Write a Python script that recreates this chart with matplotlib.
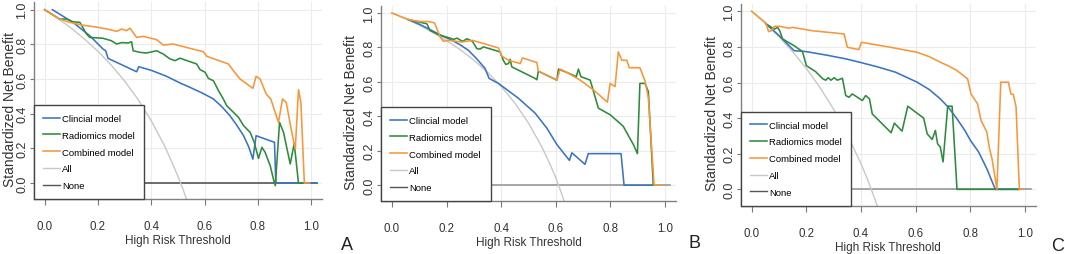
import matplotlib
matplotlib.use("Agg")
import matplotlib.pyplot as plt

plt.rcParams["font.family"] = ["Liberation Sans", "DejaVu Sans"]

# Step 1: values
# Panel A
clin_A_x = [0.029, 0.106, 0.169, 0.219, 0.229, 0.238, 0.345, 0.353, 0.40, 0.457, 0.508, 0.545, 0.59, 0.633,
            0.665, 0.695, 0.72, 0.746, 0.765, 0.781, 0.793, 0.862, 0.867, 1.02]
clin_A_y = [1.0, 0.927, 0.85, 0.773, 0.763, 0.719, 0.642, 0.671, 0.65, 0.616, 0.577, 0.552, 0.52, 0.485,
            0.44, 0.388, 0.335, 0.273, 0.21, 0.138, 0.273, 0.235, 0.0, 0.0]
rad_A_x = [0.0, 0.056, 0.082, 0.107, 0.132, 0.157, 0.169, 0.219, 0.25, 0.27, 0.289, 0.313, 0.326, 0.332,
           0.357, 0.382, 0.42, 0.445, 0.47, 0.489, 0.508, 0.545, 0.57, 0.583, 0.602, 0.614, 0.633, 0.652,
           0.67, 0.683, 0.708, 0.727, 0.746, 0.771, 0.786, 0.802, 0.815, 0.827, 0.846, 0.858, 0.865, 0.881,
           0.896, 0.921, 0.936, 0.952, 0.974]
rad_A_y = [1.0, 0.946, 0.946, 0.93, 0.927, 0.86, 0.84, 0.835, 0.821, 0.802, 0.81, 0.808, 0.815, 0.763,
           0.754, 0.75, 0.763, 0.744, 0.716, 0.706, 0.72, 0.70, 0.687, 0.654, 0.639, 0.604, 0.59, 0.533,
           0.485, 0.446, 0.408, 0.379, 0.331, 0.292, 0.235, 0.142, 0.206, 0.177, 0.1, 0.023, -0.015, 0.35,
           0.292, 0.11, 0.229, 0.0, 0.0]
comb_A_x = [0.0, 0.056, 0.094, 0.138, 0.2, 0.244, 0.27, 0.289, 0.307, 0.32, 0.345, 0.37, 0.42, 0.445,
            0.482, 0.545, 0.595, 0.608, 0.689, 0.708, 0.733, 0.781, 0.793, 0.808, 0.831, 0.848, 0.877,
            0.892, 0.906, 0.927, 0.94, 0.952, 0.961, 0.974, 0.994]
comb_A_y = [1.0, 0.946, 0.927, 0.912, 0.898, 0.885, 0.875, 0.888, 0.879, 0.893, 0.84, 0.846, 0.827, 0.796,
            0.802, 0.777, 0.758, 0.731, 0.687, 0.648, 0.6, 0.546, 0.616, 0.6, 0.513, 0.485, 0.35,
            0.485, 0.465, 0.292, 0.196, 0.538, 0.465, 0.0, 0.0]
all_A_x = [0.0, 0.05, 0.1, 0.15, 0.2, 0.25, 0.3, 0.35, 0.4, 0.45, 0.48, 0.5, 0.52, 0.54]
all_A_y = [1.0, 0.949, 0.893, 0.83, 0.76, 0.68, 0.588, 0.483, 0.359, 0.214, 0.11, 0.039, -0.04, -0.128]

# Panel B
clin_B_x = [0.061, 0.1, 0.134, 0.18, 0.22, 0.25, 0.28, 0.31, 0.341, 0.356, 0.39, 0.463, 0.524, 0.567,
            0.604, 0.65, 0.659, 0.707, 0.719, 0.839, 0.85, 0.96]
clin_B_y = [0.961, 0.935, 0.908, 0.87, 0.841, 0.815, 0.783, 0.735, 0.678, 0.62, 0.591, 0.505, 0.419, 0.332,
            0.236, 0.144, 0.188, 0.121, 0.183, 0.183, 0.0, 0.0]
rad_B_x = [0.061, 0.128, 0.14, 0.171, 0.213, 0.226, 0.238, 0.259, 0.275, 0.295, 0.311, 0.323, 0.335, 0.396,
           0.408, 0.417, 0.427, 0.433, 0.439, 0.524, 0.531, 0.536, 0.604, 0.61, 0.619, 0.64, 0.675, 0.683,
           0.692, 0.726, 0.756, 0.799, 0.847, 0.884, 0.899, 0.908, 0.927, 0.939, 0.957]
rad_B_y = [0.961, 0.937, 0.898, 0.873, 0.854, 0.846, 0.854, 0.835, 0.85, 0.835, 0.793, 0.79, 0.803, 0.774,
           0.725, 0.701, 0.706, 0.731, 0.687, 0.62, 0.612, 0.662, 0.61, 0.674, 0.668, 0.655, 0.63, 0.674,
           0.63, 0.61, 0.447, 0.409, 0.342, 0.236, 0.183, 0.591, 0.591, 0.543, 0.0]
comb_B_x = [0.0, 0.061, 0.104, 0.134, 0.156, 0.177, 0.189, 0.207, 0.256, 0.295, 0.39, 0.402, 0.427, 0.47,
            0.478, 0.531, 0.536, 0.604, 0.616, 0.64, 0.689, 0.738, 0.789, 0.799, 0.817, 0.829, 0.842, 0.86,
            0.869, 0.908, 0.927, 0.939, 0.951, 0.96, 0.988]
comb_B_y = [1.0, 0.961, 0.95, 0.95, 0.942, 0.86, 0.835, 0.841, 0.831, 0.841, 0.797, 0.75, 0.725, 0.706,
            0.739, 0.712, 0.662, 0.61, 0.674, 0.655, 0.61, 0.553, 0.482, 0.591, 0.572, 0.774, 0.725, 0.725,
            0.682, 0.682, 0.604, 0.505, 0.217, 0.0, 0.0]
all_B_x = [0.0, 0.05, 0.1, 0.15, 0.2, 0.25, 0.3, 0.35, 0.4, 0.45, 0.5, 0.55, 0.58, 0.6, 0.62, 0.64]
all_B_y = [1.0, 0.966, 0.929, 0.887, 0.84, 0.787, 0.726, 0.656, 0.574, 0.477, 0.361, 0.219, 0.118, 0.042,
           -0.043, -0.136]

# Panel C
clin_C_x = [0.052, 0.101, 0.155, 0.198, 0.27, 0.344, 0.40, 0.465, 0.526, 0.605, 0.65, 0.69, 0.72, 0.751,
            0.78, 0.80, 0.83, 0.86, 0.891, 0.98]
clin_C_y = [0.93, 0.863, 0.779, 0.774, 0.755, 0.733, 0.712, 0.686, 0.658, 0.602, 0.56, 0.508, 0.46, 0.396,
            0.33, 0.275, 0.21, 0.116, 0.0, 0.0]
rad_C_x = [0.052, 0.083, 0.095, 0.103, 0.113, 0.155, 0.186, 0.2, 0.234, 0.261, 0.271, 0.28, 0.29, 0.302,
           0.313, 0.332, 0.344, 0.356, 0.368, 0.405, 0.417, 0.431, 0.441, 0.51, 0.522, 0.55, 0.571, 0.629,
           0.642, 0.66, 0.672, 0.68, 0.69, 0.70, 0.717, 0.733, 0.751, 0.979]
rad_C_y = [0.93, 0.90, 0.91, 0.89, 0.845, 0.807, 0.774, 0.695, 0.661, 0.62, 0.613, 0.627, 0.613, 0.627,
           0.613, 0.624, 0.527, 0.517, 0.536, 0.499, 0.527, 0.508, 0.424, 0.318, 0.372, 0.327, 0.467, 0.40,
           0.312, 0.28, 0.331, 0.256, 0.237, 0.154, 0.467, 0.467, 0.0, 0.0]
comb_C_x = [0.0, 0.052, 0.062, 0.071, 0.083, 0.101, 0.137, 0.149, 0.222, 0.338, 0.35, 0.392, 0.402, 0.508,
            0.605, 0.65, 0.69, 0.72, 0.751, 0.79, 0.802, 0.826, 0.839, 0.86, 0.87, 0.879, 0.897, 0.911,
            0.939, 0.948, 0.957, 0.967, 0.979, 0.992]
comb_C_y = [1.0, 0.935, 0.886, 0.89, 0.916, 0.916, 0.905, 0.91, 0.891, 0.873, 0.798, 0.785, 0.826, 0.798,
            0.77, 0.745, 0.714, 0.693, 0.667, 0.62, 0.536, 0.48, 0.387, 0.322, 0.228, 0.172, 0.0, 0.602,
            0.602, 0.536, 0.533, 0.462, 0.0, 0.0]
all_C_x = [0.0, 0.05, 0.1, 0.15, 0.2, 0.25, 0.3, 0.35, 0.4, 0.42, 0.44, 0.46]
all_C_y = [1.0, 0.932, 0.857, 0.773, 0.679, 0.572, 0.449, 0.308, 0.143, 0.07, -0.01, -0.095]

none_x = [0.0, 1.02]
none_y = [0.0, 0.0]

labels = ["Clincial model", "Radiomics model", "Combined model", "All", "None"]
letters = ["A", "B", "C"]
ticks = [0.0, 0.2, 0.4, 0.6, 0.8, 1.0]

# Step 2: figure and axes placed like the three stitched R plots
fig = plt.figure(figsize=(10.65, 2.55), dpi=100)
positions = [
    [0.0319, 0.2157, 0.2704, 0.7710],
    [0.3577, 0.2078, 0.2770, 0.7659],
    [0.6955, 0.1894, 0.2773, 0.7916],
]
ylabel_x = [-17 / 288, -23 / 295, -22 / 295]
none_colors = ["#555555", "#999999", "#999999"]
panels = [
    (clin_A_x, clin_A_y, rad_A_x, rad_A_y, comb_A_x, comb_A_y, all_A_x, all_A_y),
    (clin_B_x, clin_B_y, rad_B_x, rad_B_y, comb_B_x, comb_B_y, all_B_x, all_B_y),
    (clin_C_x, clin_C_y, rad_C_x, rad_C_y, comb_C_x, comb_C_y, all_C_x, all_C_y),
]
letter_pos = [(347, 246), (695, 244), (1058, 247)]

for i, p in enumerate(panels):
    cx, cy, rx, ry, ox, oy, ax_, ay_ = p
    ax = fig.add_axes(positions[i])
    ax.grid(True, color="#ececec", lw=0.8)
    ax.set_axisbelow(True)
    ax.plot(none_x, none_y, color=none_colors[i], lw=1.2, zorder=2)
    ax.plot(ax_, ay_, color="#c8c8c8", lw=1.0, zorder=2)
    h_c, = ax.plot(cx, cy, color="#3a74c2", lw=1.15, zorder=3)
    h_r, = ax.plot(rx, ry, color="#2e8b3c", lw=1.15, zorder=3)
    h_o, = ax.plot(ox, oy, color="#f7963a", lw=1.15, zorder=3)
    h_a, = ax.plot([], [], color="#c8c8c8", lw=1.0)
    h_n, = ax.plot([], [], color="#555555", lw=1.0)

    ax.set_xlim(-0.04, 1.04)
    ax.set_ylim(-0.092, 1.042)
    ax.set_xticks(ticks)
    ax.set_yticks(ticks)
    ax.set_xticklabels([f"{t:.1f}" for t in ticks], fontsize=8.3, color="#333333")
    ax.set_yticklabels([f"{t:.1f}" for t in ticks], fontsize=9, color="#333333",
                       rotation=90, va="center")
    ax.tick_params(axis="x", length=4.5, width=0.8, color="#777777", pad=10.5)
    ax.tick_params(axis="y", length=3, width=0.8, color="#777777", pad=1)
    for s in ["top", "right"]:
        ax.spines[s].set_visible(False)
    for s in ["left", "bottom"]:
        ax.spines[s].set_color("#808080")
        ax.spines[s].set_linewidth(1.0)

    ax.set_xlabel("High Risk Threshold", fontsize=8.5, color="#333333", labelpad=1.5)
    ax.set_ylabel("Standardized Net Benefit", fontsize=10, color="#333333")
    ax.yaxis.set_label_coords(ylabel_x[i], 0.46)

    leg = ax.legend([h_c, h_r, h_o, h_a, h_n], labels, loc="lower left", bbox_to_anchor=(0, 0),
                    borderaxespad=0, fancybox=False, framealpha=1, edgecolor="#444444",
                    prop={"size": 6.8}, handlelength=1.8, handletextpad=0.25,
                    labelspacing=0.82, borderpad=0.95)
    leg.get_frame().set_linewidth(1.0)

    # panel letter
    fig.text(letter_pos[i][0] / 1065, 1 - letter_pos[i][1] / 255, letters[i],
             fontsize=13, ha="center", va="center", color="#222222")

# Step 3: save
fig.savefig("out.png", dpi=100)
